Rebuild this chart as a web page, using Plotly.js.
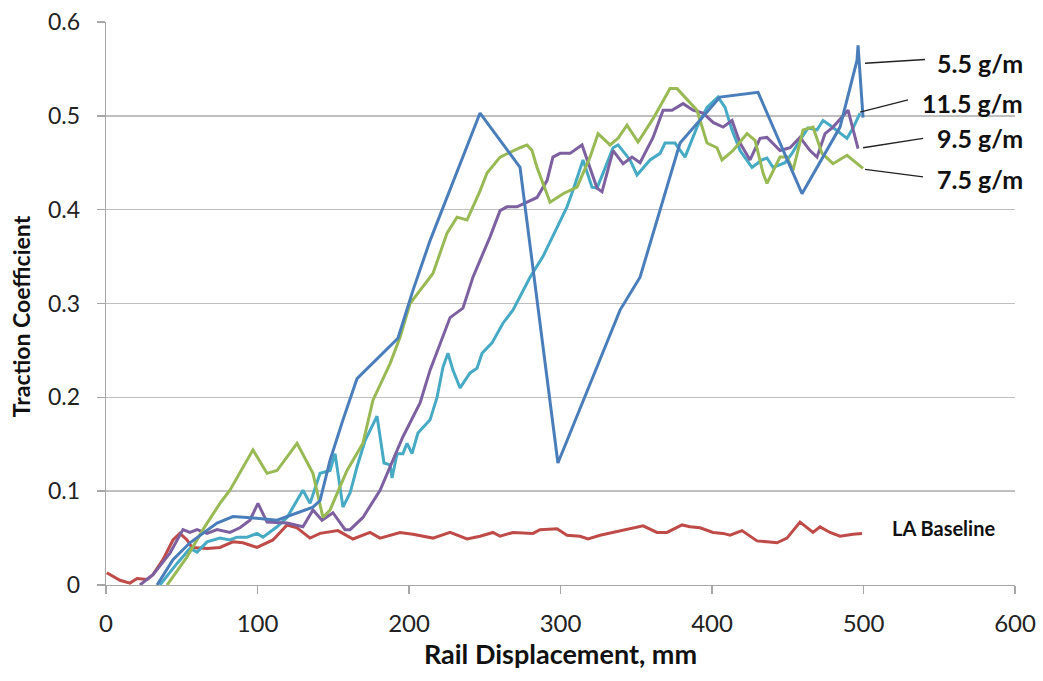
<!DOCTYPE html>
<html>
<head>
<meta charset="utf-8">
<script src="https://cdn.plot.ly/plotly-3.0.1.min.js"></script>
<style>html,body{margin:0;padding:0;background:#fff;}#chart{width:1043px;height:681px;}</style>
</head>
<body>
<div id="chart"></div>
<script>
// Series 5.5 g/m
const x55 = [33.7,44.2,55.4,64.0,73.3,83.8,93.1,112.9,136.6,141.3,147.9,156.4,165.7,192.7,202.6,213.9,246.9,273.3,298.3,326,339.3,352.5,378.9,405.3,430.4,459.4,484.5,495.7,496.4,499.7];
const y55 = [0,0.027,0.045,0.055,0.066,0.073,0.072,0.069,0.083,0.09,0.133,0.176,0.22,0.263,0.314,0.367,0.503,0.445,0.13,0.24,0.293,0.328,0.471,0.52,0.525,0.417,0.488,0.559,0.575,0.498];

// Series 7.5 g/m
const x75 = [40.3,53.5,64,75.2,81.8,97,106.3,112.9,126.1,136.6,143.2,147.9,159.1,169.6,176.2,187.5,194.1,200.7,207.3,215.8,225.1,231.7,238.3,246.9,251.5,260.1,273.3,277.9,281.2,284.5,293.1,301.7,310.9,319.5,324.8,332.7,338,343.9,351.2,361.1,372.3,376.9,390.1,396.7,403.3,406.6,413.9,423.1,428.4,433.7,436.3,444.9,449.5,453.5,460.1,466.7,472.6,479.9,489.1,499.7];
const y75 = [0,0.03,0.059,0.087,0.101,0.144,0.119,0.122,0.151,0.119,0.072,0.08,0.122,0.151,0.197,0.236,0.264,0.3,0.314,0.332,0.375,0.392,0.389,0.42,0.439,0.456,0.466,0.469,0.463,0.445,0.408,0.417,0.424,0.456,0.481,0.469,0.476,0.49,0.472,0.497,0.529,0.529,0.506,0.471,0.466,0.453,0.463,0.481,0.474,0.439,0.428,0.456,0.456,0.442,0.485,0.488,0.46,0.449,0.458,0.444];

// Series 9.5 g/m
const x95 = [22.4,31,42.2,50.8,55.4,60.1,66.7,73.3,81.8,88.4,95,100.3,106.3,119.5,130,136.6,142.6,149.8,157.8,161.1,169.6,180.9,196,207.3,213.9,220.5,227.1,235.6,242.2,246.9,253.5,260.1,264.7,271.3,279.9,284.5,291.1,295,299.7,306.3,314.2,317.5,324.1,327.4,334.7,341.3,347.2,352.5,361.1,367.7,373.6,380.9,387.5,394.1,400.7,407.3,413.2,418.5,425.1,431.7,436.3,444.9,451.5,458.1,464.7,469.3,474.6,479.9,489.8,496.4];
const y95 = [0,0.011,0.034,0.059,0.056,0.059,0.055,0.059,0.056,0.061,0.069,0.087,0.067,0.066,0.062,0.08,0.069,0.077,0.059,0.059,0.072,0.101,0.158,0.194,0.229,0.258,0.285,0.295,0.328,0.346,0.371,0.399,0.403,0.403,0.41,0.413,0.431,0.456,0.46,0.46,0.469,0.453,0.423,0.419,0.463,0.449,0.456,0.45,0.477,0.506,0.506,0.513,0.506,0.503,0.493,0.488,0.495,0.471,0.453,0.476,0.477,0.463,0.466,0.477,0.463,0.456,0.481,0.488,0.506,0.465];

// Series 11.5 g/m
const x115 = [35.6,46.9,55.4,60.1,66.7,75.2,81.8,86.5,93.1,99.7,103.6,112.9,119.5,130,134.7,141.3,147.9,151.2,156.4,161.1,165.7,171,178.9,183.5,187.5,188.8,192.1,196,198.7,202,205.9,213.9,218.5,222.4,225.7,229,233.7,240.3,244.9,248.2,254.8,258.1,262,268.6,275.2,279.9,288.4,297.7,304.3,308.3,314.9,320.8,324.1,328.1,334.7,338,345.9,350.5,359.1,365.7,369,375.6,382.2,390.1,396.7,404,408.6,413.2,418.5,426.4,433,436.3,440.3,448.2,452.8,458.1,463.4,469.3,473.3,477.9,484.5,489.1,493.1,497.7];
const y115 = [0,0.023,0.039,0.035,0.046,0.05,0.048,0.051,0.051,0.055,0.051,0.062,0.072,0.101,0.087,0.119,0.122,0.14,0.083,0.098,0.126,0.154,0.18,0.13,0.128,0.114,0.14,0.14,0.151,0.14,0.162,0.176,0.2,0.232,0.247,0.229,0.21,0.226,0.231,0.247,0.258,0.268,0.279,0.293,0.314,0.328,0.35,0.381,0.403,0.421,0.453,0.424,0.423,0.439,0.466,0.469,0.453,0.437,0.453,0.46,0.471,0.471,0.456,0.488,0.509,0.52,0.509,0.485,0.463,0.445,0.453,0.455,0.445,0.45,0.46,0.474,0.487,0.485,0.495,0.49,0.482,0.476,0.487,0.503];

// LA Baseline
const xLA = [0.5,9.2,15.8,20.5,27.1,31,37.6,44.2,48.8,53.5,56.8,66.7,75.2,83.8,90.4,99.7,110.2,119.5,126.1,134.7,141.3,153.1,163,174.3,180.9,194.1,202.6,215.8,227.1,238.3,246.9,255.4,260.1,268.6,281.8,286.5,297.7,304.3,312.9,318.2,326.1,334.7,343.9,354.5,363.7,370.3,380.2,385.5,392.1,400.7,407.3,411.9,419.8,429.7,436.3,442.9,449.5,458.1,466.7,471.3,477.9,484.5,493.1,499];
const yLA = [0.013,0.005,0.002,0.007,0.006,0.011,0.027,0.048,0.055,0.048,0.04,0.039,0.04,0.046,0.045,0.04,0.048,0.064,0.061,0.05,0.055,0.058,0.049,0.056,0.05,0.056,0.054,0.05,0.056,0.049,0.052,0.056,0.052,0.056,0.055,0.059,0.06,0.053,0.052,0.049,0.053,0.056,0.06,0.063,0.056,0.056,0.064,0.062,0.061,0.056,0.055,0.053,0.058,0.047,0.046,0.045,0.05,0.067,0.056,0.062,0.056,0.052,0.054,0.055];

const seriesNames = ['5.5 g/m','7.5 g/m','9.5 g/m','11.5 g/m','LA Baseline'];
const xTicks = [0,100,200,300,400,500,600];
const yTicks = [0,0.1,0.2,0.3,0.4,0.5,0.6];
const xTitle = 'Rail Displacement, mm';
const yTitle = 'Traction Coefficient';

const colors = {blue:'#4A7EBB', green:'#98B954', purple:'#7D60A0', cyan:'#46AAC5', red:'#BE4B48'};
const lw = 3;
const FONT = 'Lato, "Open Sans", sans-serif';

const traces = [
  {x:xLA, y:yLA, name:seriesNames[4], mode:'lines', line:{color:colors.red, width:lw}},
  {x:x115, y:y115, name:seriesNames[3], mode:'lines', line:{color:colors.cyan, width:lw}},
  {x:x95, y:y95, name:seriesNames[2], mode:'lines', line:{color:colors.purple, width:lw}},
  {x:x75, y:y75, name:seriesNames[1], mode:'lines', line:{color:colors.green, width:lw}},
  {x:x55, y:y55, name:seriesNames[0], mode:'lines', line:{color:colors.blue, width:lw}}
];

const labelFont = {family:FONT, size:25, color:'#111'};
const annotations = [
  {x:547, y:0.556, text:'<b>'+seriesNames[0]+'</b>', xanchor:'left', yanchor:'middle', showarrow:false, font:labelFont},
  {x:537, y:0.514, text:'<b>'+seriesNames[3]+'</b>', xanchor:'left', yanchor:'middle', showarrow:false, font:labelFont},
  {x:547, y:0.476, text:'<b>'+seriesNames[2]+'</b>', xanchor:'left', yanchor:'middle', showarrow:false, font:labelFont},
  {x:547, y:0.433, text:'<b>'+seriesNames[1]+'</b>', xanchor:'left', yanchor:'middle', showarrow:false, font:labelFont},
  {x:517.5, y:0.061, text:'<b>'+seriesNames[4]+'</b>', xanchor:'left', yanchor:'middle', showarrow:false, font:{family:FONT, size:20, color:'#111'}},
  {xref:'paper', x:-0.0935, yref:'y', y:0.2865, text:'<b>'+yTitle+'</b>', textangle:-90, xanchor:'center', yanchor:'middle', showarrow:false, font:{family:FONT, size:23, color:'#111'}}
];
const leader = (x0,y0,x1,y1) => ({type:'line', xref:'x', yref:'y', x0:x0, y0:y0, x1:x1, y1:y1, line:{color:'#222', width:1.4}});
const shapes = [
  leader(501,0.556,540.6,0.560),
  leader(497.7,0.504,529.4,0.517),
  leader(499.7,0.466,539.3,0.476),
  leader(501,0.443,539.3,0.435)
];

const layout = {
  width:1043, height:681,
  margin:{l:106, r:28, t:22, b:96},
  paper_bgcolor:'#fff', plot_bgcolor:'#fff',
  showlegend:false,
  font:{family:FONT, color:'#222'},
  xaxis:{
    range:[0,600], tickvals:xTicks, ticktext:xTicks.map(String),
    showgrid:false, zeroline:false,
    showline:true, linecolor:'#A6A6A6', linewidth:1.4,
    ticks:'outside', ticklen:8, tickcolor:'#A6A6A6', tickwidth:1.4,
    tickfont:{family:FONT, size:24, color:'#222'}, ticklabelstandoff:9,
    title:{text:'<b>'+xTitle+'</b>', font:{family:FONT, size:27, color:'#111'}, standoff:7}
  },
  yaxis:{
    range:[0,0.6], tickvals:yTicks, ticktext:yTicks.map(v=>v===0?'0':String(v)),
    showgrid:true, gridcolor:'#BFBFBF', gridwidth:1.6, zeroline:false,
    showline:true, linecolor:'#A6A6A6', linewidth:1.4,
    ticks:'outside', ticklen:8, tickcolor:'#A6A6A6', tickwidth:1.4,
    tickfont:{family:FONT, size:23, color:'#222'}, ticklabelstandoff:12
  },
  annotations:annotations,
  shapes:shapes
};

Plotly.newPlot('chart', traces, layout, {displayModeBar:false, staticPlot:true});
</script>
</body>
</html>
